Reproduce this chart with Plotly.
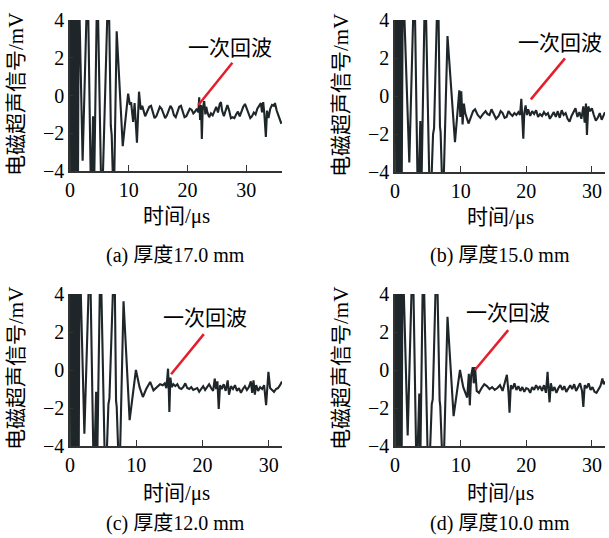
import plotly.graph_objects as go

# ---------------- data ----------------
t_a = [0.0, 0.08, 0.22, 0.36, 0.5, 0.64, 0.78, 0.92, 1.06, 1.2, 1.34, 1.5,
       2.15, 3.0, 3.6, 3.92, 4.1, 4.65, 5.4, 6.55, 6.95, 7.1, 7.45, 7.95,
       8.98, 9.9, 10.2, 10.4, 10.75, 11.0, 11.4, 11.75, 12.05, 12.3, 12.8,
       13.2, 13.5, 13.8, 14.1, 14.4, 14.7, 15.0, 15.3, 15.6, 15.9, 16.2, 16.5,
       16.8, 17.1, 17.4, 17.7, 18.0, 18.3, 18.6, 18.9, 19.2, 19.5, 19.8, 20.1,
       20.4, 20.7, 21.0, 21.3, 21.6, 21.85, 22.0, 22.15, 22.3, 22.45, 22.6,
       22.85, 23.05, 23.2, 23.4, 23.7, 24.0, 24.3, 24.6, 24.9, 25.2, 25.5,
       25.7, 25.9, 26.2, 26.5, 26.8, 27.1, 27.4, 27.7, 28.0, 28.3, 28.6, 28.9,
       29.2, 29.5, 29.8, 30.1, 30.4, 30.7, 31.0, 31.3, 31.6, 31.9, 32.2, 32.5,
       32.7, 32.9, 33.1, 33.35, 33.55, 33.8, 34.1, 34.4, 34.7, 34.9, 35.2,
       35.6, 36.0]
v_a = [0.0, 6, -6, 6, -6, 6, -6, 6, -6, 6, -6, 6,
       -3.45, 6.5, -6, -1.1, -5, 6.5, -6.5, 6.5, -1.6, -2.1, -6, 3.4,
       -2.68, 0.1, -0.5, -0.35, -1.4, -0.4, -2.5, 0.2, -0.75, -0.55, -1.1,
       -0.85, -0.6, -0.55, -0.9, -1.2, -1.1, -0.8, -0.6, -0.7, -1.0, -1.2, -1.05,
       -0.75, -0.55, -0.7, -1.05, -1.15, -0.9, -0.6, -0.55, -0.85, -1.15, -1.1, -0.85,
       -0.7, -0.75, -0.95, -0.85, -0.7, -0.9, -0.1, -1.3, -0.5, -2.3, -0.7,
       -0.3, -1.0, -0.6, -0.9, -1.15, -0.95, -1.05, -0.8, -0.6, -0.9, -0.45,
       -0.35, -0.8, -1.1, -0.75, -0.5, -0.8, -1.2, -1.15, -1.2, -1.0, -0.85, -1.1,
       -0.8, -0.6, -0.45, -0.7, -1.0, -1.2, -1.1, -0.9, -1.0, -0.7, -0.55, -0.4,
       -0.9, -0.35, -1.0, -2.2, -0.8, -1.2, -0.7, -0.5, -0.55, -0.4, -0.8,
       -1.2, -1.5]

t_b = [0.0, 0.08, 0.2, 0.32, 0.44, 0.56, 0.7, 0.85, 1.0, 1.2,
       2.18, 2.95, 3.5, 3.86, 4.02, 4.6, 5.35, 5.8, 5.95, 6.55, 6.85, 6.95,
       7.3, 8.0, 9.14, 9.6, 9.8, 9.95, 10.1, 10.3, 10.5, 10.7, 11.2, 11.9,
       12.2, 12.6, 13.0, 13.4, 13.8, 14.1, 14.4, 14.7, 15.0, 15.4, 15.8, 16.1,
       16.4, 16.7, 17.0, 17.3, 17.6, 17.9, 18.2, 18.5, 18.8, 19.05, 19.25,
       19.4, 19.55, 19.7, 19.9, 20.1, 20.3, 20.6, 20.9, 21.2, 21.5, 21.8,
       22.1, 22.4, 22.7, 23.0, 23.3, 23.6, 23.9, 24.2, 24.5, 24.8, 25.1, 25.4,
       25.7, 26.0, 26.3, 26.6, 26.9, 27.2, 27.5, 27.8, 28.1, 28.4, 28.7, 28.9,
       29.1, 29.25, 29.45, 29.7, 30.0, 30.3, 30.6, 30.9, 31.2, 31.5, 31.8, 32.0]
v_b = [0.0, 6, -6, 6, -6, 6, -6, 6, -6, 6.5,
       -3.5, 6.5, -6, -1.32, -5, 6.5, -6.5, -2.0, -1.7, 6.5, -1.6, -1.9,
       -6, 3.15, -2.43, -0.5, 0.3, -1.1, 0.25, -1.5, -0.4, -0.9, -1.45, -0.8,
       -0.7, -1.0, -1.15, -0.95, -0.8, -0.95, -1.0, -0.7, -0.95, -1.2, -1.05, -0.8,
       -0.9, -1.15, -1.1, -0.8, -0.95, -1.05, -0.9, -1.0, -0.85, -1.0, -0.15,
       -1.2, -2.25, -0.9, -0.5, -1.0, -0.7, -1.05, -0.8, -0.95, -0.75, -1.1,
       -0.95, -1.05, -0.85, -1.0, -0.9, -1.2, -1.05, -0.85, -1.1, -0.8, -1.15, -0.75,
       -1.0, -0.9, -1.2, -1.35, -1.05, -0.8, -0.65, -1.1, -0.85, -1.2, -0.55, -1.4,
       -0.4, -2.05, -0.55, -0.8, -0.65, -1.0, -1.3, -1.15, -0.9, -1.25, -0.95, -0.85]

t_c = [0.0, 0.08, 0.2, 0.32, 0.46, 0.6, 0.74, 0.88, 1.02, 1.16, 1.3, 1.45,
       2.17, 3.0, 3.6, 3.94, 4.1, 4.6, 5.35, 5.8, 5.95, 6.7, 6.95, 7.05, 7.45,
       8.08, 9.0, 9.95, 10.5, 11.0, 11.5, 12.1, 12.6, 13.1, 13.6, 14.0, 14.3,
       14.55, 14.8, 14.9, 15.0, 15.15, 15.35, 15.6, 15.9, 16.2, 16.5, 16.8,
       17.1, 17.4, 17.7, 18.0, 18.3, 18.6, 18.9, 19.2, 19.5, 19.8, 20.1, 20.4,
       20.7, 21.0, 21.3, 21.6, 21.85, 22.05, 22.25, 22.45, 22.65, 22.9, 23.2,
       23.5, 23.8, 24.0, 24.3, 24.6, 24.9, 25.2, 25.5, 25.8, 26.1, 26.4, 26.7,
       27.0, 27.3, 27.5, 27.7, 27.9, 28.1, 28.4, 28.7, 29.0, 29.3, 29.6, 29.95,
       30.2, 30.5, 30.8, 31.1, 31.4, 31.7, 32.0]
v_c = [0.0, 6, -6, 6, -6, 6, -6, 6, -6, 6, -6, 6.5,
       -3.35, 6.5, -6, -1.15, -5, 6.5, -6.5, -1.8, -1.5, 6.5, -1.6, -1.95, -6,
       3.62, -2.64, 0.0, -0.9, -1.42, -1.0, -0.63, -1.07, -0.9, -0.75, -0.8, -0.7,
       -0.95, 0.07, -0.9, -2.21, -0.4, -0.9, -0.75, -0.85, -0.75, -0.95, -1.0,
       -0.9, -0.7, -0.95, -1.0, -0.9, -1.05, -1.0, -0.95, -1.15, -1.0, -0.85, -1.05,
       -0.9, -0.75, -0.95, -1.1, -0.45, -1.0, -0.6, -2.05, -0.8, -1.0, -0.75,
       -1.1, -0.55, -1.3, -0.85, -1.0, -0.8, -1.1, -0.95, -1.2, -1.0, -0.85, -1.05,
       -0.9, -0.6, -1.2, -0.55, -1.3, -0.8, -1.1, -0.9, -1.0, -0.8, -1.85, -0.1,
       -0.95, -1.05, -1.15, -1.0, -0.95, -0.8, -0.6]

t_d = [0.0, 0.08, 0.2, 0.32, 0.44, 0.56, 0.7, 0.85, 1.0, 1.15,
       1.93, 2.7, 3.3, 3.7, 3.85, 4.3, 5.1, 5.6, 5.75, 6.35, 6.8, 6.9, 7.35,
       8.0, 8.93, 9.9, 10.4, 11.0, 11.25, 11.4, 11.6, 11.85, 12.0, 12.2, 12.45,
       12.8, 13.2, 13.6, 14.0, 14.4, 14.8, 15.2, 15.6, 16.0, 16.4, 16.8, 17.05,
       17.3, 17.45, 17.65, 17.9, 18.2, 18.5, 18.8, 19.1, 19.4, 19.7, 20.0, 20.3,
       20.6, 20.9, 21.2, 21.5, 21.8, 22.1, 22.4, 22.7, 23.0, 23.25, 23.4, 23.55,
       23.75, 24.0, 24.3, 24.6, 24.9, 25.2, 25.5, 25.8, 26.1, 26.4, 26.7, 27.0,
       27.3, 27.6, 27.9, 28.2, 28.5, 28.7, 28.9, 29.2, 29.5, 29.8, 30.1, 30.4,
       30.7, 31.0, 31.3, 31.6, 31.8, 32.0]
v_d = [0.0, 6, -6, 6, -6, 6, -6, 6, -6, 6.5,
       -3.44, 6.5, -6, -1.24, -5, 6.5, -6.5, -1.8, -1.55, 6.5, -1.6, -1.9, -6,
       2.8, -2.43, 0.0, -0.9, -1.45, -0.2, -1.86, -0.3, 0.15, -0.7, 0.15, -1.1,
       -1.2, -0.95, -0.75, -0.85, -1.0, -0.9, -1.05, -0.95, -0.8, -1.1, -0.6, -0.25,
       -1.2, -2.25, -0.8, -1.0, -0.7, -1.05, -0.85, -1.1, -0.9, -1.15, -0.95, -1.0,
       -1.2, -0.9, -1.05, -0.8, -1.0, -0.85, -1.1, -0.8, -1.2, -0.1, -1.0, -1.7,
       -0.7, -1.1, -0.9, -1.2, -0.95, -0.8, -1.05, -0.85, -1.15, -0.95, -0.8, -1.0,
       -0.75, -1.1, -0.9, -0.7, -1.1, -1.94, -0.8, -0.95, -0.7, -1.05, -0.9, -1.15,
       -1.2, -1.0, -0.85, -0.45, -0.75, -0.6]

# red pointer lines (label end -> echo) and label positions
pointer_t = [[27.65, 21.86], [25.9, 20.7], [20.2, 15.26], [17.25, 12.18]]
pointer_v = [[1.74, -0.5], [1.98, -0.18], [1.89, -0.22], [2.1, 0.0]]
label_t = [27.3, 25.1, 20.45, 17.25]
label_v = [2.5, 2.8, 2.72, 2.98]
label_text = "一次回波"

x_max = [36.1, 32, 32, 32]
captions = ["(a) 厚度17.0 mm", "(b) 厚度15.0 mm", "(c) 厚度12.0 mm", "(d) 厚度10.0 mm"]
x_title = "时间/μs"
y_title = "电磁超声信号/mV"
x_ticks = [0, 10, 20, 30]
y_ticks = [-4, -2, 0, 2, 4]

series_t = [t_a, t_b, t_c, t_d]
series_v = [v_a, v_b, v_c, v_d]

# ---------------- layout geometry (pixels) ----------------
W, H = 609, 538
# plot areas: (left, right, top, bottom) in pixels
areas = [(70, 282, 20, 171), (395, 605, 20, 172), (70, 282, 294, 446), (395, 605, 294, 446)]
xtitle_pos = [(176, 216), (500, 217), (176, 493), (500, 493)]
ytitle_pos = [(16, 95), (341, 96), (16, 369), (341, 369)]
caption_pos = [(175, 255), (500, 255), (175, 523), (500, 523)]

FONT = "Liberation Serif, 'Noto Sans CJK SC', serif"
LINE = "#1e2629"
RED = "#e41e2b"
AX = "#333333"
TXT = 21

fig = go.Figure()
layout = dict(width=W, height=H, margin=dict(l=0, r=0, t=0, b=0, pad=0),
              autosize=False,
              paper_bgcolor="white", plot_bgcolor="white", showlegend=False,
              font=dict(family=FONT, size=20, color="black"))
annotations = []


def note(x, y, text, xref="paper", yref="paper", angle=0, size=TXT):
    return dict(x=x, y=y, xref=xref, yref=yref, text=text, showarrow=False,
                xanchor="center", yanchor="middle", textangle=angle,
                borderpad=0,
                font=dict(family=FONT, size=size, color="black"))


for i in range(4):
    xa = "x" if i == 0 else f"x{i+1}"
    ya = "y" if i == 0 else f"y{i+1}"
    l, r, t, b = areas[i]
    xkey = "xaxis" if i == 0 else f"xaxis{i+1}"
    ykey = "yaxis" if i == 0 else f"yaxis{i+1}"
    layout[xkey] = dict(domain=[l / W, r / W], range=[0, x_max[i]], anchor=ya,
                        automargin=False,
                        showline=True, linecolor=AX, linewidth=1.5,
                        ticks="inside", ticklen=6, tickwidth=1.2, tickcolor=AX,
                        tickvals=x_ticks, showgrid=False, zeroline=False,
                        tickfont=dict(family=FONT, size=20, color="black"))
    layout[ykey] = dict(domain=[1 - b / H, 1 - t / H], range=[-4, 4], anchor=xa,
                        automargin=False,
                        showline=True, linecolor=AX, linewidth=1.5,
                        ticks="inside", ticklen=3, tickwidth=1.2, tickcolor=AX,
                        tickvals=y_ticks, showgrid=False, zeroline=False,
                        tickfont=dict(family=FONT, size=20, color="black"))
    fig.add_trace(go.Scatter(x=series_t[i], y=series_v[i], mode="lines",
                             line=dict(color=LINE, width=2.1), xaxis=xa, yaxis=ya,
                             hoverinfo="skip"))
    fig.add_trace(go.Scatter(x=pointer_t[i], y=pointer_v[i], mode="lines",
                             line=dict(color=RED, width=2.5), xaxis=xa, yaxis=ya,
                             hoverinfo="skip"))
    annotations.append(note(label_t[i], label_v[i], label_text, xref=xa, yref=ya))
    px, py = xtitle_pos[i]
    annotations.append(note(px / W, 1 - py / H, x_title))
    px, py = ytitle_pos[i]
    annotations.append(note(px / W, 1 - py / H, y_title, angle=-90))
    px, py = caption_pos[i]
    annotations.append(note(px / W, 1 - py / H, captions[i], size=20))

layout["annotations"] = annotations
fig.update_layout(**layout)
fig.write_html("out.html", config={"displayModeBar": False},
               post_script="document.body.style.margin='0px';document.body.style.overflow='hidden';")
